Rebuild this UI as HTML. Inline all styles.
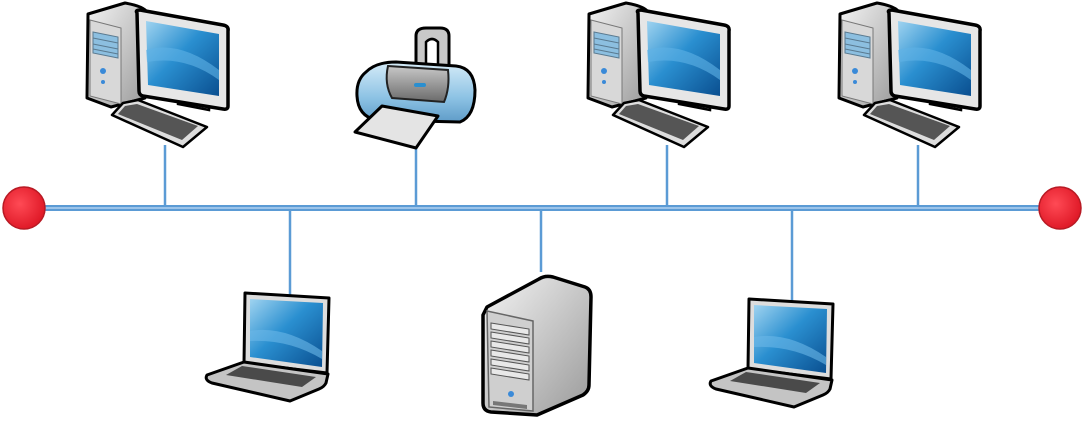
<!DOCTYPE html>
<html><head><meta charset="utf-8"><style>html,body{margin:0;padding:0;background:#fff}svg{display:block}</style></head>
<body>
<svg width="1084" height="422" viewBox="0 0 1084 422" xmlns="http://www.w3.org/2000/svg">
<defs>
<linearGradient id="gray" x1="0" y1="0" x2="1" y2="1"><stop offset="0" stop-color="#f4f4f4"/><stop offset="1" stop-color="#9a9a9a"/></linearGradient>
<linearGradient id="gray2" x1="0" y1="0" x2="1" y2="0"><stop offset="0" stop-color="#e8e8e8"/><stop offset="1" stop-color="#b4b4b4"/></linearGradient>
<linearGradient id="pb" x1="0" y1="0" x2="0" y2="1"><stop offset="0" stop-color="#d6ecf8"/><stop offset="0.6" stop-color="#8cc2e4"/><stop offset="1" stop-color="#5f9cc8"/></linearGradient>
<linearGradient id="pg" x1="0" y1="0" x2="0" y2="1"><stop offset="0" stop-color="#c8c8c8"/><stop offset="1" stop-color="#6a6a6a"/></linearGradient>
<linearGradient id="scr" x1="0" y1="0" x2="1" y2="1"><stop offset="0" stop-color="#9fd3f0"/><stop offset="0.45" stop-color="#2a8fd0"/><stop offset="1" stop-color="#0a4f90"/></linearGradient>
<radialGradient id="red" cx="0.4" cy="0.4" r="0.6"><stop offset="0" stop-color="#ff4a55"/><stop offset="1" stop-color="#e01a28"/></radialGradient>
<g id="desk">
  <path d="M3,14 L40,3 Q58,6 62,12 L60,98 L26,107 L2,98 Z" fill="url(#gray)" stroke="#000" stroke-width="3" stroke-linejoin="round"/>
  <path d="M5,20 L36,28 L36,104 L5,96 Z" fill="#d8d8d8" stroke="#777" stroke-width="1"/>
  <path d="M8,32 L33,37 L33,58 L8,53 Z" fill="#8cbfe0" stroke="#5a7a90" stroke-width="1"/>
  <line x1="8" y1="38" x2="33" y2="43" stroke="#5a7a90"/><line x1="8" y1="44" x2="33" y2="49" stroke="#5a7a90"/><line x1="8" y1="49" x2="33" y2="54" stroke="#5a7a90"/>
  <circle cx="18" cy="71" r="3" fill="#3a8ad8"/><circle cx="18" cy="82" r="2" fill="#3a8ad8"/>
  <path d="M93,88 L125,95 L124,110 L93,104 Z" fill="url(#gray2)" stroke="#000" stroke-width="2.5"/>
  <path d="M52,13 Q50,10 55,10 L138,25 Q144,26 143,31 L143,106 Q143,110 138,109 L58,96 Q54,95 54,91 Z" fill="#e6e6e6" stroke="#000" stroke-width="3.5" stroke-linejoin="round"/>
  <path d="M61,21 L134,34 L134,96 L63,85 Z" fill="url(#scr)"/>
  <path d="M61,50 Q95,40 134,70 L134,80 Q100,55 62,62 Z" fill="#5fb3e6" opacity="0.6"/>
  <path d="M38,103 L27,115 L98,147 L122,127 L53,100 Z" fill="#ddd" stroke="#000" stroke-width="2.5" stroke-linejoin="round"/>
  <path d="M40,106 L33,114 L97,140 L113,126 L52,104 Z" fill="#555"/>
</g>
<g id="lap">
  <path d="M41,2 L125,7 L123,82 L40,72 Z" fill="#ddd" stroke="#000" stroke-width="3" stroke-linejoin="round"/>
  <path d="M46,8 L119,12 L118,76 L46,66 Z" fill="url(#scr)"/>
  <path d="M46,40 Q80,34 118,60 L118,68 Q85,48 46,50 Z" fill="#6ab8e8" opacity="0.6"/>
  <path d="M40,71 L124,83 L122,92 Q120,96 115,98 L86,110 L8,92 Q0,89 3,84 Z" fill="#c4c4c4" stroke="#000" stroke-width="3" stroke-linejoin="round"/>
  <path d="M38,75 L112,86 L98,96 L22,84 Z" fill="#4a4a4a"/>
</g>
<g id="prn">
  <path d="M60,42 L60,8 Q60,0 70,0 L84,0 Q93,0 93,8 L93,44" fill="#c8c8c8" stroke="#000" stroke-width="3"/>
  <path d="M70,36 L70,14 Q76,8 82,14 L82,36" fill="#fff" stroke="#000" stroke-width="2.5"/>
  <path d="M10,44 Q20,34 40,34 L100,38 Q118,40 119,62 Q119,88 104,94 L20,92 Q2,88 1,68 Q0,52 10,44 Z" fill="url(#pb)" stroke="#000" stroke-width="3" stroke-linejoin="round"/>
  <path d="M32,38 L92,42 Q94,60 88,74 L36,70 Q28,56 32,38 Z" fill="url(#pg)" stroke="#222" stroke-width="2"/>
  <rect x="58" y="55" width="12" height="4" rx="2" fill="#2a8fd0"/>
  <path d="M26,78 L82,88 L60,120 L-1,104 Z" fill="#e4e4e4" stroke="#000" stroke-width="3" stroke-linejoin="round"/>
</g>
<g id="srv">
  <path d="M6,36 L58,8 Q64,4 72,6 L104,16 Q110,18 110,26 L108,114 Q108,120 102,124 L56,144 L10,141 Q2,140 2,132 L2,44 Z" fill="url(#gray)" stroke="#000" stroke-width="3.5" stroke-linejoin="round"/>
  <path d="M6,40 L52,50 L52,140 L8,136 Z" fill="#cfcfcf" stroke="#666" stroke-width="1.5"/>
  <g stroke="#555" stroke-width="1" fill="#e8e8e8">
    <path d="M10,52 L48,58 L48,64 L10,58 Z"/><path d="M10,61 L48,67 L48,73 L10,67 Z"/><path d="M10,70 L48,76 L48,82 L10,76 Z"/><path d="M10,79 L48,85 L48,91 L10,85 Z"/><path d="M10,88 L48,94 L48,100 L10,94 Z"/><path d="M10,97 L48,103 L48,109 L10,103 Z"/>
  </g>
  <circle cx="30" cy="123" r="3" fill="#3a8ad8"/>
  <path d="M12,130 L46,134 L46,138 L12,134 Z" fill="#777"/>
</g>
</defs>
<g stroke="#5b9bd5" stroke-width="2.5">
<line x1="165" y1="145" x2="165" y2="208"/><line x1="416" y1="146" x2="416" y2="208"/><line x1="667" y1="145" x2="667" y2="208"/><line x1="918" y1="145" x2="918" y2="208"/>
<line x1="290" y1="208" x2="290" y2="296"/><line x1="541" y1="208" x2="541" y2="272"/><line x1="792" y1="208" x2="792" y2="302"/>
</g>
<rect x="24" y="205" width="1036" height="6" fill="#5b9bd5"/>
<rect x="24" y="207" width="1036" height="2" fill="#9cc4ea"/>
<circle cx="24" cy="208" r="21" fill="url(#red)" stroke="#b81a24" stroke-width="1.5"/>
<circle cx="1060" cy="208" r="21" fill="url(#red)" stroke="#b81a24" stroke-width="1.5"/>
<use href="#desk" x="85" y="0"/>
<use href="#desk" x="586" y="0"/>
<use href="#desk" x="837" y="0"/>
<use href="#prn" x="356" y="28"/>
<use href="#lap" x="204" y="291"/>
<use href="#lap" x="708" y="297"/>
<use href="#srv" x="481" y="271"/>
</svg>
</body></html>
